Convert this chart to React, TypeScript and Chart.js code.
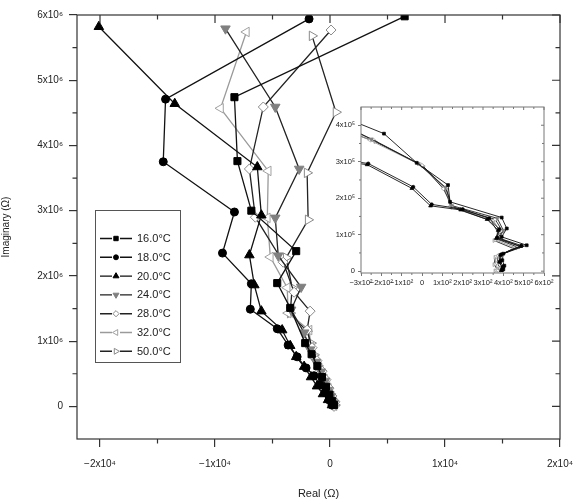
import React, { useEffect, useRef } from 'react';
import { Chart, registerables } from 'chart.js';
import { drawPoint } from 'chart.js/helpers';

Chart.register(...registerables);

const FONT = "'Liberation Sans', Arial, Helvetica, sans-serif";

// ---------- series labels ----------
const seriesLabels = ['16.0°C', '18.0°C', '20.0°C', '24.0°C', '28.0°C', '32.0°C', '50.0°C'];

// ---------- main plot data (Real Ω, Imaginary Ω) ----------
const re16 = [6490, -8310, -8050, -6840, -2940, -4590, -3460, -2160, -1600, -1100, -700, -350, -50, 200, 350];
const im16 = [5.98e6, 4.74e6, 3.76e6, 3.0e6, 2.38e6, 1.89e6, 1.51e6, 0.97e6, 0.8e6, 0.62e6, 0.45e6, 0.3e6, 0.18e6, 0.08e6, 0.02e6];

const re18 = [-1820, -14300, -14500, -8310, -9350, -6840, -6930, -4590, -3640, -2860, -2080, -1390, -870, -430, -90, 170];
const im18 = [5.94e6, 4.71e6, 3.75e6, 2.98e6, 2.35e6, 1.88e6, 1.49e6, 1.19e6, 0.94e6, 0.76e6, 0.59e6, 0.47e6, 0.33e6, 0.21e6, 0.1e6, 0.02e6];

const re20 = [-20100, -13500, -6320, -5970, -7010, -6580, -5970, -4160, -3460, -2940, -2250, -1650, -1130, -610, -170, 170];
const im20 = [5.82e6, 4.64e6, 3.67e6, 2.93e6, 2.32e6, 1.86e6, 1.46e6, 1.17e6, 0.93e6, 0.76e6, 0.61e6, 0.45e6, 0.31e6, 0.19e6, 0.1e6, 0.02e6];

const re24 = [-9090, -4760, -2680, -4760, -4500, -2510, -3380, -2250, -1730, -1210, -780, -430, -170, 90, 350];
const im24 = [5.79e6, 4.59e6, 3.64e6, 2.89e6, 2.31e6, 1.83e6, 1.48e6, 1.13e6, 0.87e6, 0.68e6, 0.53e6, 0.39e6, 0.25e6, 0.15e6, 0.05e6];

const re28 = [90, -5800, -7010, -6490, -4070, -3120, -1730, -1990, -1560, -1130, -690, -350, -90, 170, 430, 350];
const im28 = [5.77e6, 4.59e6, 3.64e6, 2.9e6, 2.21e6, 1.75e6, 1.46e6, 1.17e6, 0.9e6, 0.7e6, 0.54e6, 0.41e6, 0.28e6, 0.16e6, 0.07e6, 0.0];

const re32 = [-7270, -9520, -5370, -5450, -5190, -3720, -3640, -1820, -1650, -1300, -950, -610, -260, 0, 260, 350];
const im32 = [5.74e6, 4.57e6, 3.61e6, 2.89e6, 2.29e6, 1.82e6, 1.43e6, 1.17e6, 0.91e6, 0.74e6, 0.59e6, 0.45e6, 0.31e6, 0.21e6, 0.1e6, 0.01e6];

const re50 = [-1560, 520, -1990, -1900, -3810, -3290, -3460, -2000, -1650, -1390, -1040, -690, -350, -90, 170, 430];
const im50 = [5.68e6, 4.51e6, 3.58e6, 2.86e6, 2.28e6, 1.82e6, 1.43e6, 1.15e6, 0.97e6, 0.79e6, 0.62e6, 0.48e6, 0.34e6, 0.22e6, 0.11e6, 0.02e6];

// ---------- inset data (zoom near origin) ----------
const inRe16 = [-400, -187, -26, 128, 138, 392, 417, 392, 515, 400, 395, 405, 400];
const inIm16 = [4.25e5, 3.77e5, 2.97e5, 2.36e5, 1.9e5, 1.47e5, 1.17e5, 0.94e5, 0.71e5, 0.48e5, 0.3e5, 0.15e5, 0.05e5];

const inRe18 = [-450, -264, -43, 48, 200, 330, 380, 370, 490, 390, 385, 400, 395];
const inIm18 = [3.1e5, 2.95e5, 2.31e5, 1.83e5, 1.7e5, 1.45e5, 1.15e5, 0.92e5, 0.7e5, 0.46e5, 0.27e5, 0.12e5, 0.03e5];

const inRe20 = [-450, -270, -50, 42, 190, 320, 375, 365, 485, 385, 380, 395, 390];
const inIm20 = [3.05e5, 2.92e5, 2.27e5, 1.79e5, 1.68e5, 1.42e5, 1.12e5, 0.9e5, 0.68e5, 0.44e5, 0.25e5, 0.1e5, 0.02e5];

const inRe24 = [-400, -250, -20, 115, 145, 370, 400, 380, 480, 385, 380, 395, 385];
const inIm24 = [4.05e5, 3.62e5, 2.95e5, 2.3e5, 1.8e5, 1.45e5, 1.12e5, 0.9e5, 0.68e5, 0.45e5, 0.25e5, 0.1e5, 0.03e5];

const inRe28 = [-400, -240, 0, 105, 150, 360, 395, 370, 470, 375, 370, 385, 375];
const inIm28 = [4.0e5, 3.6e5, 2.9e5, 2.26e5, 1.76e5, 1.42e5, 1.1e5, 0.88e5, 0.66e5, 0.42e5, 0.22e5, 0.08e5, 0.02e5];

const inRe32 = [-400, -256, -10, 110, 140, 350, 385, 360, 460, 365, 360, 375, 365];
const inIm32 = [3.95e5, 3.59e5, 2.92e5, 2.28e5, 1.78e5, 1.4e5, 1.08e5, 0.86e5, 0.64e5, 0.4e5, 0.2e5, 0.06e5, 0.02e5];

const inRe50 = [-400, -230, 5, 120, 148, 340, 375, 355, 450, 360, 355, 370, 360];
const inIm50 = [3.9e5, 3.55e5, 2.88e5, 2.25e5, 1.75e5, 1.38e5, 1.05e5, 0.84e5, 0.62e5, 0.38e5, 0.18e5, 0.05e5, 0.01e5];

// ---------- ticks ----------
const xTickValues = [-20000, -10000, 0, 10000, 20000];
const xTickLabels = ['−2x10⁴', '−1x10⁴', '0', '1x10⁴', '2x10⁴'];
const xMinorValues = [-15000, -5000, 5000, 15000];
const yTickValues = [0, 1e6, 2e6, 3e6, 4e6, 5e6, 6e6];
const yTickLabels = ['0', '1x10⁶', '2x10⁶', '3x10⁶', '4x10⁶', '5x10⁶', '6x10⁶'];
const yMinorValues = [0.5e6, 1.5e6, 2.5e6, 3.5e6, 4.5e6, 5.5e6];

const inXTickValues = [-300, -200, -100, 0, 100, 200, 300, 400, 500, 600];
const inXTickLabels = ['−3x10²', '−2x10²', '−1x10²', '0', '1x10²', '2x10²', '3x10²', '4x10²', '5x10²', '6x10²'];
const inXMinorValues = [-250, -150, -50, 50, 150, 250, 350, 450, 550];
const inYTickValues = [0, 1e5, 2e5, 3e5, 4e5];
const inYTickLabels = ['0', '1x10⁵', '2x10⁵', '3x10⁵', '4x10⁵'];
const inYMinorValues = [0.5e5, 1.5e5, 2.5e5, 3.5e5];

const mainRe = [re16, re18, re20, re24, re28, re32, re50];
const mainIm = [im16, im18, im20, im24, im28, im32, im50];
const insetRe = [inRe16, inRe18, inRe20, inRe24, inRe28, inRe32, inRe50];
const insetIm = [inIm16, inIm18, inIm20, inIm24, inIm28, inIm32, inIm50];

// ---------- styles ----------
const styles = [
  { shape: 'rect', rot: 0, fill: '#000000', edge: '#000000', line: '#111111', r: 5 },
  { shape: 'circle', rot: 0, fill: '#000000', edge: '#000000', line: '#111111', r: 4 },
  { shape: 'triangle', rot: 0, fill: '#000000', edge: '#000000', line: '#111111', r: 5.5 },
  { shape: 'triangle', rot: 180, fill: '#808080', edge: '#808080', line: '#222222', r: 5.5 },
  { shape: 'rectRot', rot: 0, fill: '#ffffff', edge: '#8a8a8a', line: '#222222', r: 5 },
  { shape: 'triangle', rot: -90, fill: '#ffffff', edge: '#a0a0a0', line: '#9a9a9a', r: 5.5 },
  { shape: 'triangle', rot: 90, fill: '#ffffff', edge: '#8a8a8a', line: '#222222', r: 5.5 },
];

function buildDatasets(res: number[][], ims: number[][], scale: number, lw: number) {
  return res.map((re, i) => {
    const s = styles[i];
    return {
      label: seriesLabels[i],
      data: re.map((x, j) => ({ x, y: ims[i][j] })),
      showLine: true,
      borderColor: s.line,
      borderWidth: lw,
      backgroundColor: s.fill,
      pointStyle: s.shape,
      pointRotation: s.rot,
      pointRadius: s.r * scale,
      pointBackgroundColor: s.fill,
      pointBorderColor: s.edge,
      pointBorderWidth: scale < 1 ? 0.7 : 1,
    };
  });
}

type FrameCfg = {
  color: string; width: number; major: number; minor: number;
  xMajor: number[]; xMinor: number[]; yMajor: number[]; yMinor: number[];
};

function makeFramePlugin(cfg: FrameCfg) {
  return {
    id: 'frameTicks',
    afterDatasetsDraw(chart: any) {
      const { ctx, chartArea: a, scales } = chart;
      const xs = scales.x;
      const ys = scales.y;
      ctx.save();
      ctx.strokeStyle = cfg.color;
      ctx.lineWidth = cfg.width;
      ctx.strokeRect(a.left, a.top, a.right - a.left, a.bottom - a.top);
      ctx.beginPath();
      const seg = (x1: number, y1: number, x2: number, y2: number) => {
        ctx.moveTo(x1, y1);
        ctx.lineTo(x2, y2);
      };
      cfg.xMajor.forEach((v) => {
        const px = xs.getPixelForValue(v);
        seg(px, a.top, px, a.top + cfg.major);
      });
      cfg.xMinor.forEach((v) => {
        const px = xs.getPixelForValue(v);
        seg(px, a.top, px, a.top + cfg.minor);
        seg(px, a.bottom, px, a.bottom + cfg.minor);
      });
      cfg.yMajor.forEach((v) => {
        const py = ys.getPixelForValue(v);
        seg(a.right, py, a.right - cfg.major, py);
      });
      cfg.yMinor.forEach((v) => {
        const py = ys.getPixelForValue(v);
        seg(a.right, py, a.right - cfg.minor, py);
        seg(a.left, py, a.left - cfg.minor, py);
      });
      ctx.stroke();
      ctx.restore();
    },
  };
}

const boxLegendPlugin = {
  id: 'boxLegend',
  afterDraw(chart: any) {
    const ctx = chart.ctx;
    const left = 95;
    const top = 210;
    const w = 85;
    const h = 152;
    ctx.save();
    ctx.fillStyle = '#ffffff';
    ctx.fillRect(left, top, w, h);
    ctx.strokeStyle = '#555555';
    ctx.lineWidth = 1;
    ctx.strokeRect(left + 0.5, top + 0.5, w, h);
    chart.data.datasets.forEach((ds: any, i: number) => {
      const y = 238.5 + i * 18.8;
      ctx.strokeStyle = ds.borderColor;
      ctx.lineWidth = 1.4;
      ctx.beginPath();
      ctx.moveTo(100, y);
      ctx.lineTo(112, y);
      ctx.moveTo(120, y);
      ctx.lineTo(132, y);
      ctx.stroke();
      ctx.fillStyle = ds.pointBackgroundColor;
      ctx.strokeStyle = ds.pointBorderColor;
      ctx.lineWidth = 1;
      drawPoint(ctx, {
        pointStyle: ds.pointStyle,
        rotation: ds.pointRotation,
        radius: ds.pointRadius * 0.62,
        borderWidth: 1,
      } as any, 116, y);
      ctx.fillStyle = '#222222';
      ctx.font = `11px ${FONT}`;
      ctx.textAlign = 'left';
      ctx.textBaseline = 'middle';
      ctx.fillText(ds.label, 137, y + 0.5);
    });
    ctx.restore();
  },
};

function mainConfig(): any {
  return {
    type: 'scatter',
    data: { datasets: buildDatasets(mainRe, mainIm, 1, 1.3) },
    plugins: [
      makeFramePlugin({
        color: '#333333', width: 1.2, major: 8, minor: 4.5,
        xMajor: xTickValues, xMinor: xMinorValues, yMajor: yTickValues, yMinor: yMinorValues,
      }),
      boxLegendPlugin,
    ],
    options: {
      responsive: false,
      animation: false,
      events: [],
      layout: { padding: { left: 0, top: 15, right: 21, bottom: 0 } },
      plugins: { legend: { display: false }, tooltip: { enabled: false } },
      scales: {
        x: {
          type: 'linear',
          min: -22000,
          max: 20000,
          afterBuildTicks: (s: any) => { s.ticks = xTickValues.map((v) => ({ value: v })); },
          afterFit: (s: any) => { s.height = 62; },
          ticks: {
            callback: (_v: any, i: number) => xTickLabels[i],
            autoSkip: false, maxRotation: 0, padding: 11,
            font: { family: FONT, size: 10 }, color: '#222222',
          },
          grid: { display: true, drawOnChartArea: false, drawTicks: true, tickLength: 8, color: '#333333', lineWidth: 1.2 },
          border: { display: false },
          title: { display: true, text: 'Real (Ω)', font: { family: FONT, size: 11 }, color: '#222222', padding: { top: 0, bottom: 0 } },
        },
        y: {
          type: 'linear',
          min: -500000,
          max: 6000000,
          afterBuildTicks: (s: any) => { s.ticks = yTickValues.map((v) => ({ value: v })); },
          afterFit: (s: any) => { s.width = 77; },
          ticks: {
            callback: (_v: any, i: number) => yTickLabels[i],
            autoSkip: false, padding: 6,
            font: { family: FONT, size: 10 }, color: '#222222',
          },
          grid: { display: true, drawOnChartArea: false, drawTicks: true, tickLength: 8, color: '#333333', lineWidth: 1.2 },
          border: { display: false },
          title: { display: true, text: 'Imaginary (Ω)', font: { family: FONT, size: 10 }, color: '#222222', padding: { top: 0, bottom: 0 } },
        },
      },
    },
  };
}

const insetBgPlugin = {
  id: 'insetBg',
  beforeDatasetsDraw(chart: any) {
    const { ctx, chartArea: a } = chart;
    ctx.save();
    ctx.fillStyle = '#ffffff';
    ctx.fillRect(a.left, a.top, a.right - a.left, a.bottom - a.top);
    ctx.restore();
  },
};

function insetConfig(): any {
  return {
    type: 'scatter',
    data: { datasets: buildDatasets(insetRe, insetIm, 0.4, 0.9) },
    plugins: [
      insetBgPlugin,
      makeFramePlugin({
        color: '#777777', width: 1, major: 3, minor: 2,
        xMajor: inXTickValues, xMinor: inXMinorValues, yMajor: inYTickValues, yMinor: inYMinorValues,
      }),
    ],
    options: {
      responsive: false,
      animation: false,
      events: [],
      layout: { padding: { left: 0, top: 12, right: 16, bottom: 0 } },
      plugins: { legend: { display: false }, tooltip: { enabled: false } },
      scales: {
        x: {
          type: 'linear',
          min: -300,
          max: 600,
          afterBuildTicks: (s: any) => { s.ticks = inXTickValues.map((v) => ({ value: v })); },
          afterFit: (s: any) => { s.height = 22; },
          ticks: {
            callback: (_v: any, i: number) => inXTickLabels[i],
            autoSkip: false, maxRotation: 0, padding: 2,
            font: { family: FONT, size: 7.5 }, color: '#222222',
          },
          grid: { display: true, drawOnChartArea: false, drawTicks: true, tickLength: 3, color: '#777777', lineWidth: 1 },
          border: { display: false },
        },
        y: {
          type: 'linear',
          min: -5000,
          max: 450000,
          afterBuildTicks: (s: any) => { s.ticks = inYTickValues.map((v) => ({ value: v })); },
          afterFit: (s: any) => { s.width = 61; },
          ticks: {
            callback: (_v: any, i: number) => inYTickLabels[i],
            autoSkip: false, padding: 3,
            font: { family: FONT, size: 7.5 }, color: '#222222',
          },
          grid: { display: true, drawOnChartArea: false, drawTicks: true, tickLength: 3, color: '#777777', lineWidth: 1 },
          border: { display: false },
        },
      },
    },
  };
}

export default function App() {
  const mainRef = useRef<HTMLCanvasElement>(null);
  const insetRef = useRef<HTMLCanvasElement>(null);

  useEffect(() => {
    const main = new Chart(mainRef.current as HTMLCanvasElement, mainConfig());
    const inset = new Chart(insetRef.current as HTMLCanvasElement, insetConfig());
    return () => {
      main.destroy();
      inset.destroy();
    };
  }, []);

  return (
    <div style={{ position: 'absolute', left: 0, top: 0, width: 584, height: 501, background: '#ffffff', overflow: 'hidden' }}>
      <canvas ref={mainRef} width={584} height={501} style={{ position: 'absolute', left: 0, top: 0, width: 584, height: 501 }} />
      <canvas ref={insetRef} width={260} height={200} style={{ position: 'absolute', left: 300, top: 95, width: 260, height: 200 }} />
    </div>
  );
}
